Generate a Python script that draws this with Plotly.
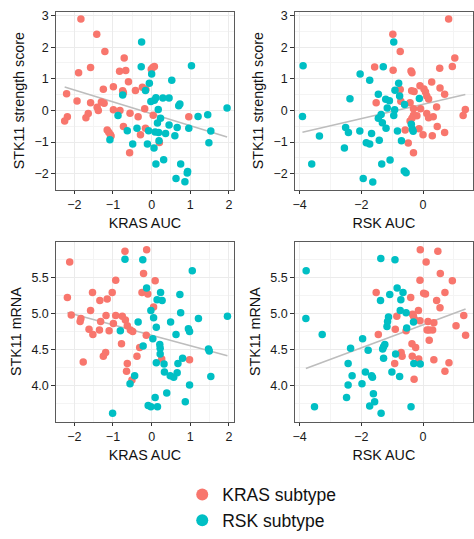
import numpy as np
import plotly.graph_objects as go

RED = "#F8766D"
TEAL = "#00BFC4"

# ---- Panel 1: KRAS AUC vs STK11 strength score ----
p1_red = [(-1.83, 2.89), (-1.42, 2.41), (-1.21, 1.86), (-1.89, 1.19), (-1.58, 1.36), (-0.71, 1.66),
          (-0.83, 1.24), (-0.67, 1.26), (-0.60, 0.91), (-1.25, 0.67), (-0.99, 0.75), (-0.75, 0.62),
          (-0.73, 0.56), (-0.42, 0.63), (-0.24, 0.73), (-0.15, 0.66), (-2.20, 0.53), (-1.93, 0.30),
          (-1.58, 0.24), (-1.30, 0.27), (-1.23, 0.23), (-1.41, 0.10), (-1.38, 0.00), (-0.99, 0.02),
          (-0.82, 0.00), (-0.56, -0.09), (-0.35, -0.20), (-0.18, 0.05), (0.04, -0.15), (-1.64, -0.10),
          (-1.70, -0.23), (-2.18, -0.20), (-2.25, -0.33), (-0.73, -0.51), (-0.16, -0.56), (-0.29, -0.77),
          (-1.15, -0.62), (-1.11, -0.69), (-1.07, -0.76), (-1.05, -0.81), (-0.57, -1.34), (0.20, -1.01),
          (0.96, -0.20), (0.03, 1.36), (-0.01, 1.30), (0.07, 1.39)]
p1_teal = [(-0.26, 2.16), (-0.27, 1.38), (1.03, 1.41), (0.00, 1.15), (0.52, 0.95), (-0.06, 0.86),
           (-0.16, 0.63), (-0.75, 0.49), (0.07, 0.32), (0.11, 0.40), (-0.02, 0.28), (0.29, 0.39),
           (0.45, 0.39), (0.73, 0.20), (0.70, 0.15), (0.17, 0.03), (-0.87, -0.16), (0.23, -0.25),
           (0.15, -0.40), (1.20, -0.19), (1.45, -0.14), (-0.63, -0.64), (-0.38, -0.56), (-0.08, -0.64),
           (0.09, -0.68), (0.18, -0.70), (0.36, -0.73), (0.45, -0.46), (0.66, -0.54), (0.60, -0.80),
           (0.96, -0.56), (1.53, -0.65), (1.48, -1.02), (-1.08, -0.93), (-0.49, -1.06), (-0.11, -1.06),
           (0.06, -1.19), (0.19, -0.96), (0.31, -1.56), (0.11, -1.69), (0.75, -1.69), (0.93, -1.93),
           (0.92, -1.98), (0.63, -2.15), (0.86, -2.25), (1.95, 0.08)]

# ---- Panel 2: RSK AUC vs STK11 strength score ----
p2_red = [(-0.98, 2.41), (-0.74, 1.86), (0.83, 2.89), (1.03, 1.66), (0.95, 1.39), (0.54, 1.33),
          (-1.57, 1.37), (-0.97, 1.27), (-0.39, 1.25), (-0.36, 1.19), (0.28, 0.90), (0.55, 0.71),
          (0.70, 0.51), (-0.10, 0.78), (0.03, 0.68), (0.08, 0.58), (0.12, 0.46), (0.18, 0.36),
          (-0.37, 0.62), (-0.29, 0.60), (-0.74, 0.66), (-0.72, 0.29), (-1.52, 0.24), (-0.42, 0.24),
          (0.44, 0.11), (-0.31, 0.05), (-0.08, 0.05), (1.37, 0.03), (1.30, -0.16), (-0.31, -0.15),
          (-0.20, -0.17), (-0.36, -0.25), (-0.42, -0.33), (0.12, -0.10), (0.18, -0.23), (0.33, -0.20),
          (0.46, -0.51), (0.70, -0.70), (0.30, -0.80), (0.00, -0.77), (-0.58, -0.62), (-0.13, -0.58),
          (-0.48, -1.03), (-0.31, -1.34)]
p2_teal = [(-3.89, 1.41), (-3.91, -0.19), (-3.36, -0.81), (-3.61, -1.69), (-0.95, 2.16), (-1.29, 1.38),
           (-2.04, 1.15), (-1.73, 0.95), (-2.37, 0.37), (-1.45, 0.51), (-0.79, 0.86), (-0.91, 0.64),
           (-0.76, 0.46), (-1.21, 0.35), (-1.09, 0.31), (-1.16, 0.08), (-0.92, 0.02), (-0.95, -0.16),
           (-0.60, 0.19), (-0.12, 0.38), (-1.36, -0.13), (-1.45, -0.25), (-1.32, -0.39), (-1.20, -0.56),
           (-2.51, -0.54), (-2.42, -0.70), (-2.05, -0.65), (-1.67, -0.73), (-0.83, -0.65), (-0.38, -0.44),
           (-0.35, -0.59), (-0.32, -0.66), (-0.70, -0.96), (-1.84, -1.02), (-1.73, -1.06), (-1.42, -0.94),
           (-2.55, -1.19), (-1.34, -1.69), (-1.07, -1.57), (-0.61, -1.91), (-0.55, -1.97), (-1.94, -2.15),
           (-1.63, -2.26)]

# ---- Panel 3: KRAS AUC vs STK11 mRNA ----
p3_red = [(-2.12, 5.71), (-0.69, 5.86), (-0.13, 5.88), (-0.21, 5.55), (-0.93, 5.46), (0.09, 5.45),
          (-2.18, 5.22), (-1.53, 5.29), (-1.34, 5.18), (-1.15, 5.20), (-1.02, 5.29), (-0.25, 5.29),
          (-0.10, 5.27), (0.05, 5.09), (-1.58, 5.04), (-2.08, 4.98), (-1.83, 4.93), (-1.85, 4.89),
          (-1.32, 4.89), (-1.18, 4.97), (-0.93, 4.97), (-0.76, 4.96), (-0.68, 4.91), (-0.63, 4.83),
          (-1.62, 4.78), (-1.52, 4.71), (-1.35, 4.77), (-1.10, 4.76), (-0.99, 4.86), (-0.55, 4.77),
          (-0.49, 4.75), (-0.14, 4.70), (-0.78, 4.58), (-0.31, 4.53), (-1.19, 4.46), (-1.25, 4.41),
          (-1.77, 4.33), (-0.63, 4.31), (-0.38, 4.41), (-0.65, 4.20), (-0.51, 4.08), (0.26, 4.37),
          (0.98, 4.36)]
p3_teal = [(-0.69, 5.75), (-0.23, 5.74), (1.05, 5.59), (-0.13, 5.35), (0.23, 5.29), (0.14, 5.19),
           (0.27, 5.18), (0.73, 5.26), (0.75, 5.01), (-0.02, 5.04), (0.05, 4.94), (1.21, 4.93),
           (1.96, 4.96), (-0.35, 4.88), (0.49, 4.88), (0.12, 4.81), (0.95, 4.79), (0.98, 4.75),
           (-0.81, 4.76), (0.63, 4.71), (0.21, 4.57), (0.22, 4.52), (0.22, 4.44), (0.03, 4.65),
           (-0.22, 4.55), (1.47, 4.51), (1.49, 4.48), (0.12, 4.32), (0.32, 4.30), (0.68, 4.31),
           (0.80, 4.38), (0.33, 4.19), (0.48, 4.14), (0.57, 4.12), (0.66, 4.18), (1.53, 4.13),
           (-0.44, 4.14), (-0.56, 4.03), (0.98, 4.01), (0.39, 3.90), (0.09, 3.84), (-0.09, 3.73),
           (-0.02, 3.71), (0.15, 3.71), (0.87, 3.78), (-1.01, 3.62)]

# ---- Panel 4: RSK AUC vs STK11 mRNA ----
p4_red = [(-0.09, 5.88), (0.48, 5.86), (0.10, 5.71), (0.56, 5.55), (-0.10, 5.46), (0.95, 5.45),
          (-1.52, 5.29), (0.02, 5.28), (0.08, 5.27), (0.71, 5.29), (-0.40, 5.22), (0.44, 5.18),
          (0.55, 5.08), (-0.15, 5.04), (-0.34, 4.99), (-0.31, 4.96), (-0.85, 4.96), (1.32, 4.97),
          (-0.10, 4.90), (-0.26, 4.91), (0.16, 4.89), (0.35, 4.87), (1.07, 4.83), (-0.90, 4.78),
          (-0.55, 4.76), (0.13, 4.77), (0.20, 4.77), (0.31, 4.77), (1.38, 4.70), (-1.45, 4.71),
          (0.20, 4.63), (-0.36, 4.58), (-0.24, 4.53), (-0.71, 4.46), (-0.68, 4.41), (-0.35, 4.41),
          (-0.14, 4.37), (0.35, 4.36), (-0.92, 4.31), (0.84, 4.32), (0.71, 4.20), (-0.29, 4.09)]
p4_teal = [(-1.37, 5.76), (-0.91, 5.74), (-3.79, 5.59), (-0.84, 5.35), (-1.08, 5.26), (-0.65, 5.29),
           (-0.72, 5.19), (-1.38, 5.18), (-0.55, 5.01), (-0.74, 5.04), (-3.80, 4.93), (-1.12, 4.95),
           (-1.15, 4.89), (-1.17, 4.82), (-0.31, 4.88), (-0.53, 4.80), (-3.27, 4.71), (-1.96, 4.65),
           (-2.35, 4.52), (-1.78, 4.49), (-1.24, 4.57), (-1.28, 4.54), (-1.31, 4.51), (-1.28, 4.38),
           (-0.89, 4.44), (-2.43, 4.31), (-0.30, 4.31), (-0.09, 4.30), (-1.87, 4.19), (-2.30, 4.14),
           (-1.67, 4.14), (-1.64, 4.12), (-1.01, 4.19), (-0.76, 4.13), (-2.43, 4.01), (-1.98, 4.03),
           (-1.61, 3.89), (-2.48, 3.84), (-1.57, 3.78), (-1.73, 3.72), (-3.52, 3.71), (-0.39, 3.71),
           (-1.36, 3.62)]

legend_labels = ["KRAS subtype", "RSK subtype"]
x_titles = ["KRAS AUC", "RSK AUC", "KRAS AUC", "RSK AUC"]
y_titles = ["STK11 strength score", "STK11 strength score", "STK11 mRNA", "STK11 mRNA"]

panels = [(p1_red, p1_teal), (p2_red, p2_teal), (p3_red, p3_teal), (p4_red, p4_teal)]

W, H = 474, 539
x_domains = [[54 / W, 233 / W], [294 / W, 473 / W], [54 / W, 233 / W], [294 / W, 473 / W]]
y_domains = [[1 - 193 / H, 1 - 9 / H], [1 - 193 / H, 1 - 9 / H],
             [1 - 433 / H, 1 - 247 / H], [1 - 433 / H, 1 - 247 / H]]

fig = go.Figure()

for i, (red, teal) in enumerate(panels):
    xa = "x" if i == 0 else f"x{i+1}"
    ya = "y" if i == 0 else f"y{i+1}"
    allpts = np.array(red + teal)
    slope, icpt = np.polyfit(allpts[:, 0], allpts[:, 1], 1)
    xl = np.array([allpts[:, 0].min(), allpts[:, 0].max()])
    fig.add_trace(go.Scatter(x=xl, y=icpt + slope * xl, mode="lines",
                             line=dict(color="#BDBDBD", width=1.6), showlegend=False,
                             hoverinfo="skip", xaxis=xa, yaxis=ya))
    for pts, col, lab in [(red, RED, legend_labels[0]), (teal, TEAL, legend_labels[1])]:
        arr = np.array(pts)
        fig.add_trace(go.Scatter(x=arr[:, 0], y=arr[:, 1], mode="markers",
                                 marker=dict(color=col, size=7.5),
                                 name=lab, legendgroup=lab, showlegend=(i == 0),
                                 xaxis=xa, yaxis=ya))

tickfont = dict(family="Liberation Sans, Arial, sans-serif", size=12.5, color="#1a1a1a")
titlefont = dict(family="Liberation Sans, Arial, sans-serif", size=14.3, color="#111")

x_ranges = [[-2.48, 2.13], [-4.16, 1.62], [-2.48, 2.13], [-4.16, 1.62]]
x_dticks = [1, 2, 1, 2]
y_ranges = [[-2.5, 3.12], [-2.5, 3.12], [3.507, 5.99], [3.507, 5.99]]
y_dticks = [1, 1, 0.5, 0.5]

layout = dict(width=W, height=H, margin=dict(l=0, r=0, t=0, b=0),
              paper_bgcolor="white", plot_bgcolor="white",
              font=dict(family="Liberation Sans, Arial, sans-serif"))

for i in range(4):
    sfx = "" if i == 0 else str(i + 1)
    axcommon = dict(showline=True, mirror=True, linecolor="#5a5a5a", linewidth=1,
                    showgrid=True, gridcolor="#EBEBEB", gridwidth=1.1, zeroline=False,
                    ticks="outside", ticklen=3.5, tickcolor="#333333", tickwidth=1,
                    tickfont=tickfont)
    layout["xaxis" + sfx] = dict(axcommon, domain=x_domains[i], range=x_ranges[i],
                                 anchor="y" + sfx, dtick=x_dticks[i], tick0=0,
                                 minor=dict(dtick=x_dticks[i] / 2, showgrid=True,
                                            gridcolor="#F4F4F4", gridwidth=0.6),
                                 title=dict(text=x_titles[i], font=titlefont, standoff=6))
    layout["yaxis" + sfx] = dict(axcommon, domain=y_domains[i], range=y_ranges[i],
                                 anchor="x" + sfx, dtick=y_dticks[i], tick0=0,
                                 tickformat=".1f" if i >= 2 else "d",
                                 minor=dict(dtick=y_dticks[i] / 2, showgrid=True,
                                            gridcolor="#F4F4F4", gridwidth=0.6),
                                 title=dict(text=y_titles[i], font=titlefont, standoff=6))

layout["legend"] = dict(x=181 / W, xanchor="left", y=1 - 490 / H, yanchor="top",
                        font=dict(family="Liberation Sans, Arial, sans-serif", size=17.5, color="#111"),
                        itemsizing="constant", bgcolor="rgba(0,0,0,0)", tracegroupgap=0)

fig.update_layout(**layout)
fig.write_html("out.html")
